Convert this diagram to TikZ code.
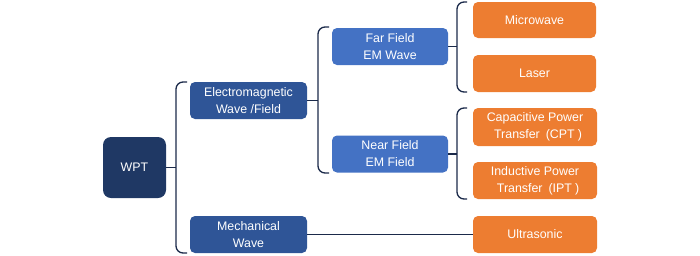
\documentclass[tikz,border=0pt]{standalone}
\usepackage{fontspec}
\setmainfont{Liberation Sans}
\definecolor{navy}{HTML}{1F3864}
\definecolor{midblue}{HTML}{2F5597}
\definecolor{lightblue}{HTML}{4472C4}
\definecolor{orng}{HTML}{ED7D31}
\definecolor{linec}{HTML}{1B2A4A}
\begin{document}
\begin{tikzpicture}[x=1pt,y=-1pt,
  box/.style={rectangle, rounded corners=5pt, inner sep=0pt, align=center,
    text=white, font=\fontsize{12.4}{17}\selectfont},
  wptbox/.style={box, fill=navy, rounded corners=8pt},
  lvone/.style={box, fill=midblue, minimum width=117pt, minimum height=37pt},
  lvtwo/.style={box, fill=lightblue, minimum width=116pt, minimum height=37pt},
  leaf/.style={box, fill=orng, minimum width=124pt, minimum height=37pt},
  conn/.style={draw=linec, line width=1.3pt},
  brack/.style={conn, rounded corners=7pt}]
\useasboundingbox (0,0) rectangle (700,255);
\node[wptbox, minimum width=63pt, minimum height=61pt] (wpt) at (134.5,167.5) {WPT};
\node[lvone] (em) at (248.5,100.5) {Electromagnetic\\Wave /Field};
\node[lvone] (mech) at (248.5,234.5) {Mechanical\\Wave};
\node[lvtwo] (far) at (390,46.5) {Far Field\\EM Wave};
\node[lvtwo] (near) at (390,154) {Near Field\\EM Field};
\node[leaf, minimum width=123pt, minimum height=36pt] (micro) at (534.5,20) {Microwave};
\node[leaf, minimum width=123pt] (laser) at (534.5,73.5) {Laser};
\node[leaf, minimum height=38pt] (cpt) at (535,127) {Capacitive Power\\\hspace{6pt}Transfer\hspace{6pt}(CPT\hspace{3pt})};
\node[leaf] (ipt) at (535,180.5) {Inductive Power\\\hspace{6pt}Transfer\hspace{6pt}(IPT\hspace{3pt})};
\node[leaf] (ultra) at (535,234.5) {Ultrasonic};
% brackets
\coordinate (b1) at (176,167.5);
\coordinate (b2) at (318,100.5);
\coordinate (b3) at (457,46.5);
\coordinate (b4) at (457,154);
\draw[brack] (187,82) -- (176,82) -- (176,253) -- (187,253);
\draw[brack] (329,27) -- (318,27) -- (318,173) -- (329,173);
\draw[brack] (467,2) -- (457,2) -- (457,92) -- (467,92);
\draw[brack] (467,108) -- (457,108) -- (457,199) -- (467,199);
% connectors
\draw[conn] (wpt.east) -- (b1);
\draw[conn] (em.east) -- (b2);
\draw[conn] (far.east) -- (b3);
\draw[conn] (near.east) -- (b4);
\draw[conn] (mech.east) -- (ultra.west);
\end{tikzpicture}
\end{document}
